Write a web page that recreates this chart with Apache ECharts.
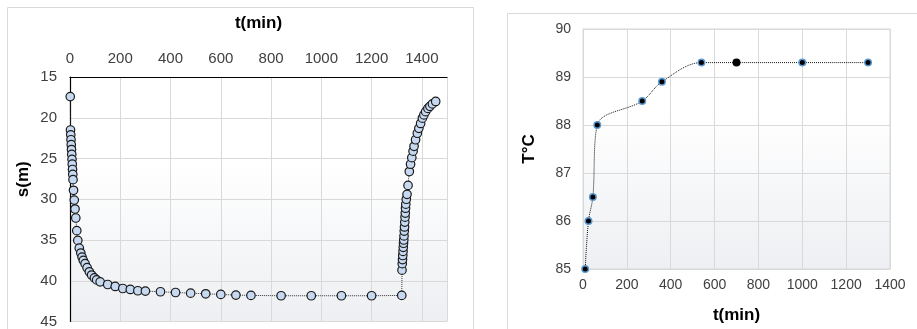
<!DOCTYPE html>
<html><head><meta charset="utf-8">
<script src="https://cdn.jsdelivr.net/npm/echarts@6/dist/echarts.min.js"></script>
<style>html,body{margin:0;padding:0;background:#fff}#c{width:917px;height:329px}</style>
</head><body><div id="c"></div>
<script>
// Left chart: drawdown s(m) vs time t(min)
const sTime = [1,2,3,4,5,6,7,8,9,10,11,12,14,17,20,23,27,31,37,43,48,53,60,68,77,86,97,106,120,150,180,210,240,270,300,360,420,480,540,600,660,720,840,960,1080,1200,1320,
  1321,1322,1323,1324,1325,1326,1327,1328,1329,1330,1331,1332,1333,1334,1335,1336,1338,1341,1345,1350,1355,1360,1365,1369,1375,1382,1388,1395,1402,1408,1415,1424,1432,1442,1455];
const sValue = [17.4,21.5,22.1,22.7,23.3,23.9,24.5,25.1,25.7,26.35,26.95,27.6,28.9,30.1,31.2,32.3,33.85,35.05,36.0,36.6,37.1,37.5,37.9,38.4,38.9,39.3,39.65,39.9,40.13,40.46,40.7,40.95,41.07,41.23,41.27,41.35,41.44,41.52,41.6,41.68,41.76,41.8,41.84,41.84,41.84,41.84,41.8,
  38.7,37.9,37.4,36.9,36.4,35.9,35.4,35.0,34.5,33.9,33.4,32.8,32.2,31.7,31.1,30.6,30.0,29.4,28.3,26.6,25.7,24.9,24.1,23.5,22.7,21.9,21.3,20.7,20.05,19.65,19.25,18.85,18.6,18.3,18.0];
// Right chart: temperature T(°C) vs time t(min)
const tTime = [10,25,45,65,270,360,540,700,1000,1300];
const tValue = [85,86,86.5,88,88.5,88.9,89.3,89.3,89.3,89.3];
const leftXTicks = {min:0, max:1500, interval:200};
const leftYTicks = {min:15, max:45, interval:5};
const rightXTicks = {min:0, max:1400, interval:200};
const rightYTicks = {min:85, max:90, interval:1};

const font = 'Liberation Sans, Arial, sans-serif';
const grad = {type:'linear',x:0,y:0,x2:0,y2:1,colorStops:[{offset:0,color:'#ffffff'},{offset:0.35,color:'#ffffff'},{offset:1,color:'#edeff2'}]};
const chart = echarts.init(document.getElementById('c'), null, {renderer:'canvas'});
const labelStyle = {color:'#404040', fontFamily:font};
const nameStyle = {color:'#000', fontFamily:font, fontWeight:'bold', fontSize:17};
const grid = '#d9d9d9';

chart.setOption({
  animation:false,
  graphic:[
    {type:'rect', shape:{x:7.5,y:7.5,width:466,height:340}, style:{fill:'none',stroke:'#d9d9d9',lineWidth:1}, z:-10},
    {type:'rect', shape:{x:507.5,y:13.5,width:420,height:340}, style:{fill:'none',stroke:'#d9d9d9',lineWidth:1}, z:-10}
  ],
  grid:[
    {left:70, top:77, width:377, height:246, show:true, backgroundColor:grad, borderWidth:0},
    {left:583, top:29, width:307, height:240, show:true, backgroundColor:grad, borderColor:grid, borderWidth:1}
  ],
  xAxis:[
    {gridIndex:0, type:'value', position:'top', min:leftXTicks.min, max:leftXTicks.max, interval:leftXTicks.interval,
     name:'t(min)', nameLocation:'middle', nameGap:45, nameTextStyle:nameStyle,
     axisLine:{show:true,onZero:false,lineStyle:{color:'#000',width:1.2}}, axisTick:{show:false},
     axisLabel:Object.assign({fontSize:15, margin:11, formatter:v=> (v%200===0? String(v):'')}, labelStyle),
     splitLine:{show:true,lineStyle:{color:grid}}},
    {gridIndex:1, type:'value', min:rightXTicks.min, max:rightXTicks.max, interval:rightXTicks.interval,
     name:'t(min)', nameLocation:'middle', nameGap:38, nameTextStyle:nameStyle,
     axisLine:{show:true,onZero:false,lineStyle:{color:grid}}, axisTick:{show:false},
     axisLabel:Object.assign({fontSize:14, margin:9, formatter:v=>String(v)}, labelStyle),
     splitLine:{show:true,lineStyle:{color:grid}}}
  ],
  yAxis:[
    {gridIndex:0, type:'value', inverse:true, min:leftYTicks.min, max:leftYTicks.max, interval:leftYTicks.interval,
     name:'s(m)', nameLocation:'middle', nameGap:38, nameRotate:90, nameTextStyle:Object.assign({padding:[0,0,0,40]},nameStyle),
     axisLine:{show:true,onZero:false,lineStyle:{color:'#000',width:1.2}}, axisTick:{show:false},
     axisLabel:Object.assign({fontSize:15, margin:13, formatter:v=>String(v)}, labelStyle),
     splitLine:{show:true,lineStyle:{color:grid}}},
    {gridIndex:1, type:'value', min:rightYTicks.min, max:rightYTicks.max, interval:rightYTicks.interval,
     name:'T°C', nameLocation:'middle', nameGap:45, nameRotate:90, nameTextStyle:nameStyle,
     axisLine:{show:true,onZero:false,lineStyle:{color:grid}}, axisTick:{show:false},
     axisLabel:Object.assign({fontSize:14, margin:12, formatter:v=>String(v)}, labelStyle),
     splitLine:{show:true,lineStyle:{color:grid}}}
  ],
  series:[
    {type:'line', xAxisIndex:0, yAxisIndex:0, data:sTime.map((t,i)=>[t,sValue[i]]),
     symbol:'circle', symbolSize:8.5, lineStyle:{color:'#333',width:1,type:'dotted'},
     itemStyle:{color:'#c6d9f1',borderColor:'#1a1a1a',borderWidth:1.2}},
    {type:'line', xAxisIndex:1, yAxisIndex:1, smooth:0.35, data:tTime.map((t,i)=>{
        const p = {value:[t,tValue[i]]};
        if (t===700) p.itemStyle = {color:'#000', borderColor:'#000'};
        return p;}),
     symbol:'circle', symbolSize:6.5, lineStyle:{color:'#111',width:1,type:'dotted'},
     itemStyle:{color:'#000',borderColor:'#5b9bd5',borderWidth:1.5}}
  ]
});
</script></body></html>
